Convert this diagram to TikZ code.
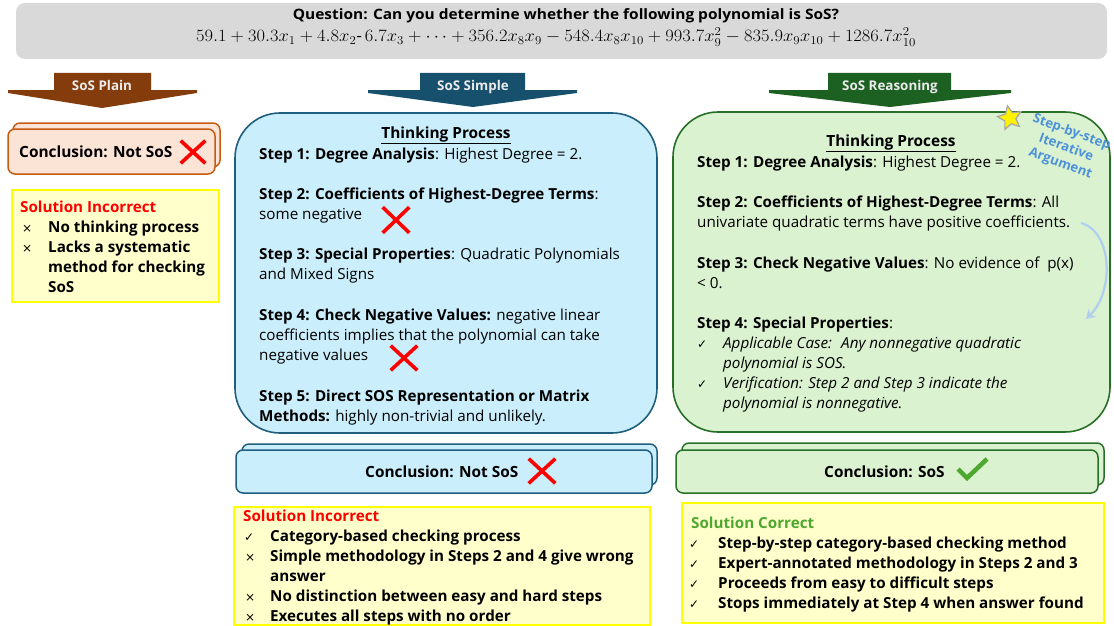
\documentclass[tikz,border=0pt]{standalone}
\usepackage{fontspec}
\setmainfont{Open Sans}
\newfontfamily\symf{DejaVu Sans}
\newfontfamily\qfont[FakeStretch=1.08]{Open Sans}
\usetikzlibrary{shapes.geometric,shapes.misc,arrows.meta}
\definecolor{greybg}{RGB}{217,217,217}
\definecolor{bannerbrown}{RGB}{132,60,12}
\definecolor{bannerblue}{RGB}{22,80,108}
\definecolor{bannergreen}{RGB}{28,96,34}
\definecolor{bluefill}{RGB}{202,238,251}
\definecolor{bluedraw}{RGB}{32,94,126}
\definecolor{greenfill}{RGB}{218,242,208}
\definecolor{greendraw}{RGB}{40,112,40}
\definecolor{peachfill}{RGB}{251,227,214}
\definecolor{peachdraw}{RGB}{197,90,17}
\definecolor{yelfill}{RGB}{255,255,204}
\definecolor{yeldraw}{RGB}{255,255,0}
\definecolor{okgreen}{RGB}{78,167,46}
\definecolor{annblue}{RGB}{78,146,218}
\definecolor{arrblue}{RGB}{176,206,238}
\begin{document}
\begin{tikzpicture}[x=1pt,y=-1pt,
  body/.style={font=\fontsize{15.2}{20}\selectfont, inner sep=0pt, anchor=base west},
  ctext/.style={font=\fontsize{15.4}{20}\selectfont\bfseries, inner sep=0pt, anchor=base},
  bannertext/.style={font=\fontsize{13.4}{15}\selectfont\bfseries, text=white!92!black, inner sep=0pt, anchor=base},
  thinkbox/.style={rounded corners=45pt, line width=1.6pt},
  conbox/.style={rounded corners=7pt, line width=1.5pt},
  solbox/.style={fill=yelfill, draw=yeldraw, line width=1.8pt},
  redx/.style={cross out, draw=red, line width=3.6pt, inner sep=0pt, minimum width=21pt, minimum height=19pt},
  ckmark/.style={draw=okgreen, line width=4.5pt},
  bul/.style={font=\fontsize{12}{20}\selectfont\symf, inner sep=0pt, anchor=base west},
  curarrow/.style={draw=arrblue, line width=2.2pt, -{Stealth[length=9pt,width=11pt]}}
]
\useasboundingbox (0,0) rectangle (1114,626);
\fill[white] (0,0) rectangle (1114,626);

% question header
\fill[greybg, rounded corners=9pt] (16,3) rectangle (1107,59);
\node[font=\fontsize{14.3}{16}\selectfont\qfont\bfseries, inner sep=0pt, anchor=base] (question) at (566,20)
  {Question: Can you determine whether the following polynomial is SoS?};
\node[font=\fontsize{16.5}{17}\selectfont, inner sep=0pt, anchor=base] (formula) at (556,42)
  {\scalebox{1.07}[1]{$59.1+30.3x_1+4.8x_2$\mbox{-}\,$6.7x_3+\cdots+356.2x_8x_9-548.4x_8x_{10}+993.7x_9^2-835.9x_9x_{10}+1286.7x_{10}^2$}};

% banners
\fill[bannerbrown] (54,73) -- (151,73) -- (151,90) -- (197,90) -- (197,93) -- (102,108) -- (8,93) -- (8,90) -- (54,90) -- cycle;
\node[bannertext] (bplain) at (102,91) {SoS Plain};
\fill[bannerblue] (420,73) -- (525,73) -- (525,90) -- (577,90) -- (577,93) -- (473,107) -- (368,93) -- (368,90) -- (420,90) -- cycle;
\node[bannertext] (bsimple) at (473,91) {SoS Simple};
\fill[bannergreen] (828,73) -- (951,73) -- (951,90) -- (1011,90) -- (1011,93) -- (890,107) -- (769,93) -- (769,90) -- (828,90) -- cycle;
\node[bannertext] (breason) at (890,91) {SoS Reasoning};

% ---------- SoS Plain column ----------
\draw[conbox, fill=peachfill, draw=peachdraw] (13,123) rectangle (220,167);
\draw[conbox, fill=peachfill, draw=peachdraw] (8,129) rectangle (215,174);
\node[ctext, anchor=base west] (cplain) at (19,157) {Conclusion: Not SoS};
\node[redx] (xplain) at (193,152) {};

\draw[solbox] (12,190) rectangle (219,302);
\node[body, text=red] (solplain) at (20,212) {\textbf{Solution Incorrect}};
\node[bul] (pb1) at (22,232) {×};
\node[body] (pt1) at (48,232) {\textbf{No thinking process}};
\node[bul] (pb2) at (22,252) {×};
\node[body] (pt2a) at (48,252) {\textbf{Lacks a systematic}};
\node[body] (pt2b) at (48,272) {\textbf{method for checking}};
\node[body] (pt2c) at (48,292) {\textbf{SoS}};

% ---------- SoS Simple column ----------
\draw[thinkbox, fill=bluefill, draw=bluedraw] (235,113) rectangle (657,433);
\node[ctext] (tps) at (446,138) {\underline{Thinking Process}};
\node[body] (s1) at (259,159) {\textbf{Step 1: Degree Analysis}: Highest Degree = 2.};
\node[body] (s2a) at (259,199) {\textbf{Step 2: Coefficients of Highest-Degree Terms}:};
\node[body] (s2b) at (259,219) {some negative};
\node[redx, minimum width=23pt, minimum height=22pt] (xs2) at (396,220) {};
\node[body] (s3a) at (259,259) {\textbf{Step 3: Special Properties}: Quadratic Polynomials};
\node[body] (s3b) at (259,279) {and Mixed Signs};
\node[body] (s4a) at (259,320) {\textbf{Step 4: Check Negative Values:} negative linear};
\node[body] (s4b) at (259,340) {coefficients implies that the polynomial can take};
\node[body] (s4c) at (259,360) {negative values};
\node[redx, minimum width=23pt, minimum height=21pt] (xs4) at (404,358) {};
\node[body] (s5a) at (259,401) {\textbf{Step 5: Direct SOS Representation or Matrix}};
\node[body] (s5b) at (259,421) {\textbf{Methods:} highly non-trivial and unlikely.};

\draw[conbox, fill=bluefill, draw=bluedraw] (242,444) rectangle (657,485);
\draw[conbox, fill=bluefill, draw=bluedraw] (236,450) rectangle (652,493);
\node[ctext, anchor=base west] (csimple) at (365,477) {Conclusion: Not SoS};
\node[redx, minimum width=23pt, minimum height=21pt] (xsimple) at (542,471) {};

\draw[solbox] (234,507) rectangle (650,625);
\node[body, text=red] (solsimple) at (243,521) {\textbf{Solution Incorrect}};
\node[bul] (sb1) at (244,541) {✓};
\node[body] (st1) at (270,541) {\textbf{Category-based checking process}};
\node[bul] (sb2) at (245,561) {×};
\node[body] (st2a) at (270,561) {\textbf{Simple methodology in Steps 2 and 4 give wrong}};
\node[body] (st2b) at (270,581) {\textbf{answer}};
\node[bul] (sb3) at (245,601) {×};
\node[body] (st3) at (270,601) {\textbf{No distinction between easy and hard steps}};
\node[bul] (sb4) at (245,621) {×};
\node[body] (st4) at (270,621) {\textbf{Executes all steps with no order}};

% ---------- SoS Reasoning column ----------
\draw[thinkbox, fill=greenfill, draw=greendraw] (673,112) rectangle (1110,432);
\node[star, star points=5, star point ratio=2.1, fill=yellow, draw=gray!70, line width=1.2pt, minimum size=25pt, inner sep=0pt, rotate=12] (star) at (1010,118) {};
\node[font=\fontsize{13.2}{16.5}\selectfont\bfseries, text=annblue, align=center, rotate=-20, inner sep=0pt] (annot) at (1066,148) {Step-by-step\\Iterative\\Argument};
\node[ctext] (tpr) at (891,146) {\underline{Thinking Process}};
\node[body] (r1) at (697,167) {\textbf{Step 1: Degree Analysis}: Highest Degree = 2.};
\node[body] (r2a) at (697,207) {\textbf{Step 2: Coefficients of Highest-Degree Terms}: All};
\node[body] (r2b) at (697,227) {univariate quadratic terms have positive coefficients.};
\node[body] (r3a) at (697,268) {\textbf{Step 3: Check Negative Values}: No evidence of~ p(x)};
\node[body] (r3b) at (697,288) {< 0.};
\node[body] (r4) at (697,328) {\textbf{Step 4: Special Properties}:};
\node[bul] (rb1) at (697,348) {✓};
\node[body] (rt1a) at (723,348) {\textit{Applicable Case:~ Any nonnegative quadratic}};
\node[body] (rt1b) at (723,368) {\textit{polynomial is SOS.}};
\node[bul] (rb2) at (697,388) {✓};
\node[body] (rt2a) at (723,388) {\textit{Verification: Step 2 and Step 3 indicate the}};
\node[body] (rt2b) at (723,408) {\textit{polynomial is nonnegative.}};
\coordinate (arrS) at (1081,223);
\coordinate (arrE) at (1086,319);
\draw[curarrow] (arrS) .. controls (1113,232) and (1114,292) .. (arrE);

\draw[conbox, fill=greenfill, draw=greendraw] (682,443) rectangle (1104,485);
\draw[conbox, fill=greenfill, draw=greendraw] (676,450) rectangle (1098,493);
\node[ctext, anchor=base west] (creason) at (824,477) {Conclusion: SoS};
\coordinate (ck1) at (958,469);
\coordinate (ck2) at (967,478);
\coordinate (ck3) at (987,459);
\draw[ckmark] (ck1) -- (ck2) -- (ck3);

\draw[solbox] (682,503) rectangle (1104,623);
\node[body, text=okgreen] (solreason) at (691,528) {\textbf{Solution Correct}};
\node[bul] (qb1) at (689,548) {✓};
\node[body] (qt1) at (718,548) {\textbf{Step-by-step category-based checking method}};
\node[bul] (qb2) at (689,568) {✓};
\node[body] (qt2) at (718,568) {\textbf{Expert-annotated methodology in Steps 2 and 3}};
\node[bul] (qb3) at (689,588) {✓};
\node[body] (qt3) at (718,588) {\textbf{Proceeds from easy to difficult steps}};
\node[bul] (qb4) at (689,608) {✓};
\node[body] (qt4) at (718,608) {\textbf{Stops immediately at Step 4 when answer found}};
\end{tikzpicture}
\end{document}
